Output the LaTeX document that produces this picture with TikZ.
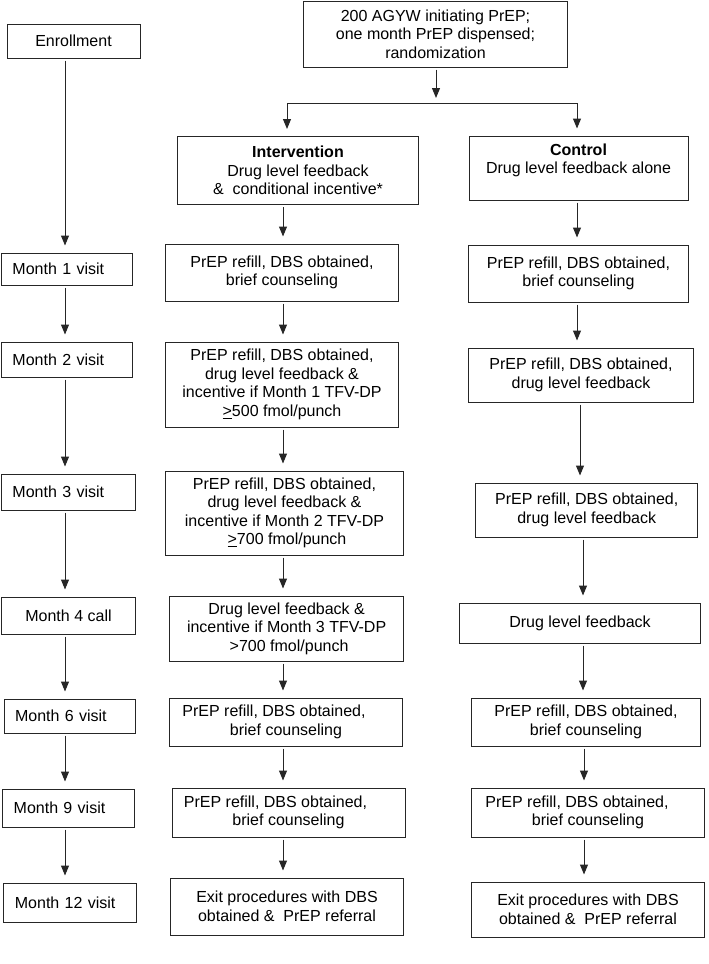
\documentclass[tikz,border=0pt]{standalone}
\usepackage{fontspec}
\setmainfont{Liberation Sans}
\usetikzlibrary{arrows.meta}
\begin{document}
\begin{tikzpicture}[x=1pt,y=-1pt,
  base/.style={draw=black!85, line width=1pt, font=\fontsize{16}{18.5}\selectfont, inner sep=2pt},
  box/.style 2 args={base, align=center, minimum width=#1, minimum height=#2},
  mbox/.style 2 args={base, align=left, text width=#1, inner xsep=11pt, minimum height=#2},
  arr/.style={draw=black!85, line width=1pt, -{Triangle[length=10pt,width=8pt]}, shorten <=2pt, shorten >=7pt}]
\useasboundingbox (0,0) rectangle (709,964);
\coordinate (lx) at (65,0);
\coordinate (ix) at (283,0);
\coordinate (bl) at (287,0);
\coordinate (ca) at (577,0);
\coordinate (cb) at (580,0);
\coordinate (cc) at (583,0);
\coordinate (cd) at (584,0);
\coordinate (split) at (436,103);
% top row
\node[box={264pt}{66pt}] (top) at (435.5,34) {200 AGYW initiating PrEP;\\one month PrEP dispensed;\\randomization};
\node[box={133pt}{34pt}] (enr) at (73.5,41) {Enrollment};
\node[box={241pt}{68pt}] (int) at (298,170.5) {\textbf{Intervention}\\Drug level feedback\\\&\ \ conditional incentive*};
\node[box={219pt}{64pt}] (ctl) at (578.5,168) {\textbf{Control}\\Drug level feedback alone\\\mbox{}};
% month labels
\node[mbox={109pt}{32pt}] (m1) at (67,269) {Month 1 visit};
\node[mbox={109pt}{35pt}] (m2) at (67,359.5) {Month 2 visit};
\node[mbox={112pt}{36pt}] (m3) at (68.5,492) {Month 3 visit};
\node[box={134pt}{37pt}] (m4) at (68.5,615.5) {Month 4 call};
\node[mbox={109.5pt}{34pt}] (m6) at (69.8,716) {Month 6 visit};
\node[mbox={109.4pt}{38pt}] (m9) at (68.4,808) {Month 9 visit};
\node[mbox={111pt}{39pt}] (m12) at (70.4,902.5) {Month 12 visit};
% intervention column
\node[box={233pt}{57pt}] (i1) at (282,272.5) {PrEP refill, DBS obtained,\\brief counseling};
\node[box={233pt}{85pt}] (i2) at (282,384.5) {PrEP refill, DBS obtained,\\drug level feedback \&\\incentive if Month 1 TFV-DP\\\underline{>}500 fmol/punch};
\node[box={238.5pt}{84pt}] (i3) at (284.5,513) {PrEP refill, DBS obtained,\\drug level feedback \&\\incentive if Month 2 TFV-DP\\\hspace*{5pt}\underline{>}700 fmol/punch};
\node[box={234.4pt}{65pt}] (i4) at (286.6,628.5) {Drug level feedback \&\\incentive if Month 3 TFV-DP\\\hspace*{5pt}>700 fmol/punch};
\node[box={233pt}{48pt}] (i6) at (286,722) {PrEP refill, DBS obtained,\hspace*{24pt}\mbox{}\\brief counseling};
\node[box={233pt}{49pt}] (i9) at (288.5,812.5) {PrEP refill, DBS obtained,\hspace*{26pt}\mbox{}\\brief counseling};
\node[box={233pt}{57pt}] (i12) at (287,906.5) {Exit procedures with DBS\\obtained \&\ \ PrEP referral};
% control column
\node[box={219.5pt}{57pt}] (c1) at (578.5,273.5) {PrEP refill, DBS obtained,\\brief counseling};
\node[box={225pt}{54pt}] (c2) at (581,375) {PrEP refill, DBS obtained,\\drug level feedback};
\node[box={222pt}{54pt}] (c3) at (586.7,510) {PrEP refill, DBS obtained,\\drug level feedback};
\node[box={241pt}{40pt}] (c4) at (580,623) {Drug level feedback};
\node[box={229pt}{48pt}] (c6) at (586,722) {PrEP refill, DBS obtained,\\brief counseling};
\node[box={233pt}{49pt}] (c9) at (588,812.5) {PrEP refill, DBS obtained,\hspace*{22pt}\mbox{}\\brief counseling};
\node[box={233pt}{55pt}] (c12) at (588,909.5) {Exit procedures with DBS\\obtained \&\ \ PrEP referral};
% top connectors
\draw[arr, shorten >=5pt] (top.south -| split) -- (split);
\draw[arr, shorten <=0pt] (split) -| (int.north -| bl);
\draw[arr, shorten <=0pt] (split) -| (ctl.north -| ca);
% left column
\draw[arr] (enr.south -| lx) -- (m1.north -| lx);
\draw[arr] (m1.south -| lx) -- (m2.north -| lx);
\draw[arr] (m2.south -| lx) -- (m3.north -| lx);
\draw[arr] (m3.south -| lx) -- (m4.north -| lx);
\draw[arr] (m4.south -| lx) -- (m6.north -| lx);
\draw[arr] (m6.south -| lx) -- (m9.north -| lx);
\draw[arr] (m9.south -| lx) -- (m12.north -| lx);
% intervention column
\draw[arr] (int.south -| ix) -- (i1.north -| ix);
\draw[arr] (i1.south -| ix) -- (i2.north -| ix);
\draw[arr] (i2.south -| ix) -- (i3.north -| ix);
\draw[arr] (i3.south -| ix) -- (i4.north -| ix);
\draw[arr] (i4.south -| ix) -- (i6.north -| ix);
\draw[arr] (i6.south -| ix) -- (i9.north -| ix);
\draw[arr] (i9.south -| ix) -- (i12.north -| ix);
% control column
\draw[arr] (ctl.south -| ca) -- (c1.north -| ca);
\draw[arr] (c1.south -| ca) -- (c2.north -| ca);
\draw[arr] (c2.south -| cb) -- (c3.north -| cb);
\draw[arr] (c3.south -| cc) -- (c4.north -| cc);
\draw[arr] (c4.south -| cc) -- (c6.north -| cc);
\draw[arr] (c6.south -| cd) -- (c9.north -| cd);
\draw[arr] (c9.south -| cd) -- (c12.north -| cd);
\end{tikzpicture}
\end{document}
